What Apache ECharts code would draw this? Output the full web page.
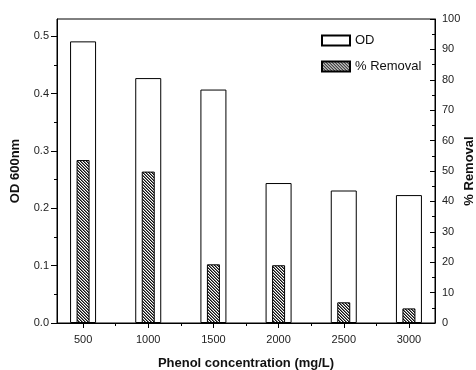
<!DOCTYPE html>
<html>
<head>
<meta charset="utf-8">
<title>Phenol concentration</title>
<script src="https://cdn.jsdelivr.net/npm/echarts@6/dist/echarts.min.js"></script>
<style>
  html, body { margin: 0; padding: 0; background: #fff; }
  #chart { width: 476px; height: 370px; }
</style>
</head>
<body>
<div id="chart"></div>
<script>
// data
var concentrations = [500, 1000, 1500, 2000, 2500, 3000];
var odValues = [0.491, 0.427, 0.407, 0.244, 0.231, 0.223];
var removalValues = [53.6, 49.8, 19.3, 19.0, 6.8, 4.8];
var odTicks = [0, 0.1, 0.2, 0.3, 0.4, 0.5];
var odMinorTicks = [0.05, 0.15, 0.25, 0.35, 0.45];
var xMinorTicks = [750, 1250, 1750, 2250, 2750];

// hatch pattern for the removal bars
function makeHatch() {
    var c = document.createElement('canvas');
    c.width = 3; c.height = 3;
    var ctx = c.getContext('2d');
    ctx.fillStyle = '#fff';
    ctx.fillRect(0, 0, 3, 3);
    for (var x = 0; x < 3; x++) {
        for (var y = 0; y < 3; y++) {
            var d = (x - y + 3) % 3;
            if (d === 0) { ctx.fillStyle = '#111'; ctx.fillRect(x, y, 1, 1); }
            else if (d === 1) { ctx.fillStyle = '#777'; ctx.fillRect(x, y, 1, 1); }
        }
    }
    return c;
}

var font = 'Liberation Sans';
var odData = [], removalData = [];
for (var i = 0; i < concentrations.length; i++) {
    odData.push([concentrations[i], odValues[i]]);
    removalData.push([concentrations[i], removalValues[i]]);
}

var myChart = echarts.init(document.getElementById('chart'));
var option = {
    animation: false,
    textStyle: { fontFamily: font },
    grid: {
        left: 57, right: 41, top: 19, bottom: 47,
        outerBoundsMode: 'none',
        show: true, borderColor: '#000', borderWidth: 1
    },
    legend: {
        orient: 'vertical',
        left: 316, top: 29,
        itemWidth: 28, itemHeight: 10, itemGap: 13,
        icon: 'rect',
        textStyle: { fontFamily: font, fontSize: 13, color: '#111' },
        data: ['OD', '% Removal']
    },
    xAxis: [{
        type: 'value', min: 300, max: 3200,
        name: 'Phenol concentration (mg/L)',
        nameLocation: 'middle', nameGap: 34, nameMoveOverlap: false,
        nameTextStyle: { fontFamily: font, fontSize: 13, fontWeight: 'bold', color: '#111' },
        axisLine: { lineStyle: { color: '#000' } },
        axisTick: { length: 5, customValues: concentrations, lineStyle: { color: '#000' } },
        axisLabel: {
            customValues: concentrations, margin: 11,
            fontSize: 11, color: '#222',
            formatter: function (v) { return String(v); }
        },
        splitLine: { show: false }
    }, {
        type: 'value', min: 300, max: 3200, position: 'bottom',
        axisLine: { show: false },
        axisTick: { length: 3, customValues: xMinorTicks, lineStyle: { color: '#000' } },
        axisLabel: { show: false },
        splitLine: { show: false }
    }],
    yAxis: [{
        type: 'value', min: 0, max: 0.53, position: 'left',
        name: 'OD 600nm',
        nameLocation: 'middle', nameGap: 35, nameRotate: 90, nameMoveOverlap: false,
        nameTextStyle: { fontFamily: font, fontSize: 13, fontWeight: 'bold', color: '#111' },
        axisLine: { show: true, lineStyle: { color: '#000' } },
        axisTick: { show: true, length: 6, customValues: odTicks, lineStyle: { color: '#000' } },
        axisLabel: {
            customValues: odTicks, margin: 8, fontSize: 11, color: '#222',
            formatter: function (v) { return v.toFixed(1); }
        },
        splitLine: { show: false }
    }, {
        type: 'value', min: 0, max: 100, interval: 10, position: 'right',
        name: '% Removal',
        nameLocation: 'middle', nameGap: 28, nameRotate: 90, nameMoveOverlap: false,
        nameTextStyle: { fontFamily: font, fontSize: 13, fontWeight: 'bold', color: '#111' },
        axisLine: { show: true, lineStyle: { color: '#000' } },
        axisTick: { show: true, inside: true, length: 5, lineStyle: { color: '#000' } },
        minorTick: { show: true, splitNumber: 2, length: 3, lineStyle: { color: '#000' } },
        axisLabel: { margin: 7, fontSize: 11, color: '#222' },
        splitLine: { show: false }
    }, {
        type: 'value', min: 0, max: 0.53, position: 'left',
        axisLine: { show: false },
        axisTick: { show: true, length: 3, customValues: odMinorTicks, lineStyle: { color: '#000' } },
        axisLabel: { show: false },
        splitLine: { show: false }
    }],
    series: [{
        name: 'OD',
        type: 'bar',
        xAxisIndex: 0, yAxisIndex: 0,
        barWidth: 26,
        itemStyle: { color: '#fff', borderColor: '#000', borderWidth: 1 },
        data: odData
    }, {
        name: '% Removal',
        type: 'bar',
        xAxisIndex: 1, yAxisIndex: 1,
        barWidth: 13,
        itemStyle: {
            color: { image: makeHatch(), repeat: 'repeat' },
            borderColor: '#000', borderWidth: 1
        },
        data: removalData
    }]
};
myChart.setOption(option);
</script>
</body>
</html>
